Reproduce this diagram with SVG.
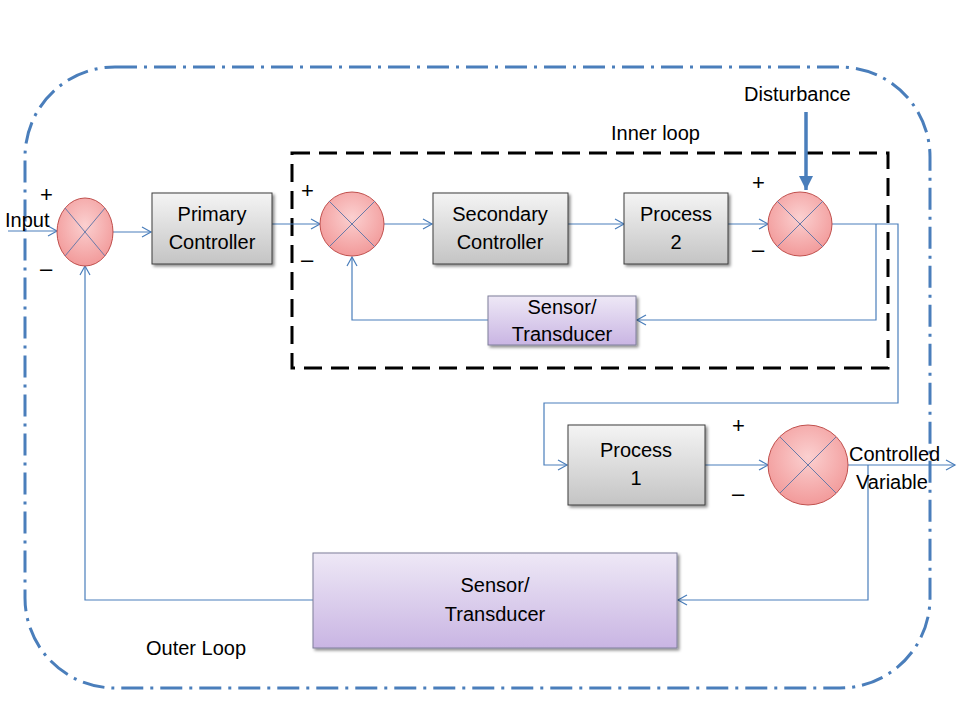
<svg xmlns="http://www.w3.org/2000/svg" width="960" height="720" viewBox="0 0 960 720">
<style>
text{font-family:"Liberation Sans",Arial,sans-serif;font-size:20px;fill:#000}
.c{text-anchor:middle}
.pm{font-size:22px}
.box{fill:url(#gray);stroke:#3c3c3c;stroke-width:1}
.sen{fill:url(#purp);stroke:#7f7f9a;stroke-width:1}
.sum{fill:url(#pink);stroke:#c0504d;stroke-width:1}
.x{stroke:#6a7aa8;stroke-width:1}
.w{fill:none;stroke:#4a7ebb;stroke-width:1.2}
</style>
<defs>
<linearGradient id="gray" x1="0" y1="0" x2="0" y2="1"><stop offset="0" stop-color="#f4f4f4"/><stop offset="1" stop-color="#c4c4c4"/></linearGradient>
<linearGradient id="purp" x1="0" y1="0" x2="0" y2="1"><stop offset="0" stop-color="#eee8f6"/><stop offset="1" stop-color="#c9b5e3"/></linearGradient>
<radialGradient id="pink" cx="0.5" cy="0.4" r="0.6"><stop offset="0" stop-color="#fbd0d0"/><stop offset="1" stop-color="#f29a9a"/></radialGradient>
<filter id="sh" x="-10%" y="-10%" width="130%" height="130%"><feDropShadow dx="2" dy="2" stdDeviation="1.5" flood-opacity="0.45"/></filter>
<marker id="a" markerWidth="12" markerHeight="12" refX="10" refY="6" orient="auto" markerUnits="userSpaceOnUse"><path d="M1,1 L10,6 L1,11" fill="none" stroke="#4a7ebb" stroke-width="1.2"/></marker>
<marker id="ab" markerWidth="14" markerHeight="14" refX="4" refY="3" orient="auto" markerUnits="strokeWidth"><path d="M0,1 L4,3 L0,5 Z" fill="#4a7ebb"/></marker>
</defs>

<rect x="25" y="67" width="905" height="621" rx="90" ry="90" fill="none" stroke="#4a7ebb" stroke-width="3" stroke-dasharray="22 7 3 7"/>
<rect id="innerloop" x="292" y="153" width="596" height="215" fill="none" stroke="#000" stroke-width="3" stroke-dasharray="18 9"/>

<g id="connectors">
<path class="w" d="M8,231 H57" marker-end="url(#a)"/>
<path class="w" d="M113,232 H151" marker-end="url(#a)"/>
<path class="w" d="M272,224 H320" marker-end="url(#a)"/>
<path class="w" d="M384,224 H432" marker-end="url(#a)"/>
<path class="w" d="M568,224 H624" marker-end="url(#a)"/>
<path class="w" d="M728,224 H768" marker-end="url(#a)"/>
<path class="w" d="M832,224 H898 V403 H544 V465 H567" marker-end="url(#a)"/>
<path class="w" d="M876,224 V320 H637" marker-end="url(#a)"/>
<path class="w" d="M488,320 H352 V257" marker-end="url(#a)"/>
<path class="w" d="M705,465 H768" marker-end="url(#a)"/>
<path class="w" d="M848,465 H955" marker-end="url(#a)"/>
<path class="w" d="M868,465 V600 H678" marker-end="url(#a)"/>
<path class="w" d="M313,600 H85 V266" marker-end="url(#a)"/>
<path d="M806,112 V190" fill="none" stroke="#4a7ebb" stroke-width="3.5" marker-end="url(#ab)"/>
</g>

<g id="sum1"><ellipse class="sum" cx="85" cy="232" rx="28" ry="34"/><path class="x" d="M65,208 L105,256 M105,208 L65,256"/></g>
<g id="primary"><rect class="box" x="152" y="193" width="120" height="71" filter="url(#sh)"/><text class="c" x="212" y="221">Primary</text><text class="c" x="212" y="249">Controller</text></g>
<g id="sum2"><circle class="sum" cx="352" cy="224" r="32"/><path class="x" d="M329,201 L375,247 M375,201 L329,247"/></g>
<g id="secondary"><rect class="box" x="433" y="193" width="135" height="71" filter="url(#sh)"/><text class="c" x="500" y="221">Secondary</text><text class="c" x="500" y="249">Controller</text></g>
<g id="process2"><rect class="box" x="624" y="193" width="104" height="71" filter="url(#sh)"/><text class="c" x="676" y="221">Process</text><text class="c" x="676" y="249">2</text></g>
<g id="sum3"><circle class="sum" cx="800" cy="224" r="32"/><path class="x" d="M777,201 L823,247 M823,201 L777,247"/></g>
<g id="sensor1"><rect class="sen" x="488" y="296" width="148" height="49" filter="url(#sh)"/><text class="c" x="562" y="314">Sensor/</text><text class="c" x="562" y="341">Transducer</text></g>
<g id="process1"><rect class="box" x="568" y="425" width="137" height="80" filter="url(#sh)"/><text class="c" x="636" y="457">Process</text><text class="c" x="636" y="485">1</text></g>
<g id="sum4"><circle class="sum" cx="808" cy="465" r="40"/><path class="x" d="M780,437 L836,493 M836,437 L780,493"/></g>
<g id="sensor2"><rect class="sen" x="313" y="553" width="364" height="95" filter="url(#sh)"/><text class="c" x="495" y="592">Sensor/</text><text class="c" x="495" y="621">Transducer</text></g>

<g id="labels">
<text x="5" y="227" font-size="19">Input</text>
<text class="pm" x="40" y="202">+</text><text class="pm" x="40" y="276">–</text>
<text class="pm" x="301" y="198">+</text><text class="pm" x="301" y="267">–</text>
<text class="pm" x="752" y="190">+</text><text class="pm" x="752" y="257">–</text>
<text class="pm" x="732" y="433">+</text><text class="pm" x="732" y="501">–</text>
<text x="611" y="140">Inner loop</text>
<text x="744" y="101">Disturbance</text>
<text x="849" y="461">Controlled</text>
<text x="856" y="489">Variable</text>
<text x="146" y="655">Outer Loop</text>
</g>
</svg>
